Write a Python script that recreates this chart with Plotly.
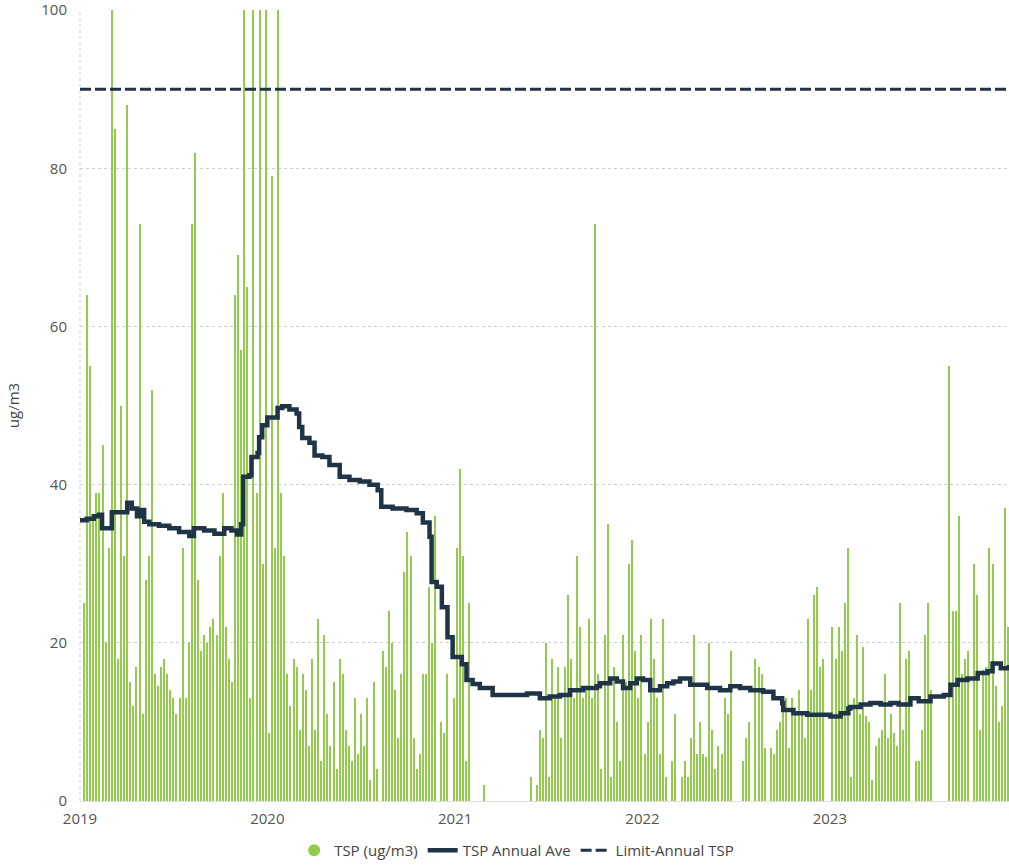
import pandas as pd
import plotly.graph_objects as go

# ---- data -------------------------------------------------------------
N = None
tsp_start = "2019-01-09"          # first sample, then every 6 days
tsp_values = [
    25, 64, 55, 36, 39, 39, 45, 20, 32, 115, 85, 18, 50, 31, 88, 15, 12, 17, 73, 11,
    28, 31, 52, 16, 14.5, 17, 18, 16, 14, 13, 11, 13, 32, 13, 20, 73, 82, 28, 19, 21,
    20, 22, 23, 21, 31, 39, 22, 18, 15, 64, 69, 57, 120, 65, 13, 110, 39, 125, 30, 105,
    8.6, 79, 32, 115, 39, 31, 16,
    12, 18, 17, 9, 16, 14, 7, 18, 9, 23, 5, 21, 11, 7, 15, 4, 18, 16, 9, 7,
    5, 13, 6, 11, 7, 13, 2.7, 15, 4, N, 19, 17, 24, 20, 14, 8, 16, 29, 34, 31,
    8, 4, 6, 16, 16, 27, 20, 36, N, 10, 8.6, 16, N, 13, 32, 42, 31, 5, 25,
    N, N, N, N, 2, N, N, N, N, N, N, N, N, N, N, N, N, N, N, 3,
    N, 2, 9, 8, 20, 3, 18, 13, 17, 8, 17, 26, 18, 13, 31, 22, 13, 14, 23, 13,
    73, 16, 4, 21, 35, 3, 17, 10, 5, 21, 15, 30, 33, 19, 13, 21, 6, 10, 23, 18,
    13, 6, 23, 3,
    N, 5, 11, N, 3, 5, 3, 8, 21, 6, 10, 6, 5.6, 20, 9, 4, 7, 6, 13, 11,
    19, N, N, N, 5, 8, 10, N, 18, 17, 16, 6.7, N, 6.7, 6, 9, 10, 12, 13, 6.7,
    13, 11, 14, 11, 8, 23, 14, 26, 27, 17, 18, N, N, 22, 18, 22, 19, 25, 32, 3,
    13, 21,
    11, 19.5, 10.7, 10, 2.7, 7, 8, 9, 16, 8, 11, 8.6, 7, 25, 9, 18, 19, N, 5, 5,
    9, 21, 25, 14, N, N, N, N, N, 55, 24, 24, 36, 16, 18, 19, N, 30, 26, 9,
    16.6, 17, 32, 30, 14.5, 10, 12, 37, 22,
]
tsp_dates = pd.date_range(tsp_start, periods=len(tsp_values), freq="6D")

ave_dates = [
    "2019-01-01", "2019-01-14", "2019-01-28", "2019-02-07", "2019-02-13", "2019-02-27",
    "2019-03-04", "2019-03-18", "2019-04-03", "2019-04-12", "2019-04-22", "2019-04-28",
    "2019-05-06", "2019-05-16", "2019-06-04", "2019-06-24", "2019-07-13", "2019-08-02",
    "2019-08-11", "2019-08-31", "2019-09-20", "2019-10-09", "2019-10-23", "2019-11-03",
    "2019-11-11", "2019-11-15", "2019-11-27", "2019-12-01", "2019-12-13", "2019-12-16",
    "2019-12-22", "2020-01-01", "2020-01-15", "2020-01-21", "2020-01-30", "2020-02-13",
    "2020-02-27", "2020-03-03", "2020-03-09", "2020-03-23", "2020-04-02", "2020-04-17",
    "2020-05-01", "2020-05-21", "2020-06-09", "2020-06-29", "2020-07-18", "2020-08-03",
    "2020-08-10", "2020-09-01", "2020-09-28", "2020-10-18", "2020-10-30", "2020-11-12",
    "2020-11-16", "2020-11-26", "2020-12-06", "2020-12-17", "2020-12-27", "2021-01-14",
    "2021-01-23", "2021-02-04", "2021-02-18", "2021-03-15", "2021-04-17", "2021-05-21",
    "2021-06-15", "2021-07-04", "2021-07-24", "2021-08-13", "2021-09-07", "2021-10-04",
    "2021-10-10", "2021-10-30", "2021-11-12", "2021-11-24", "2021-12-08", "2021-12-21",
    "2022-01-02", "2022-01-16", "2022-02-04", "2022-02-18", "2022-03-02", "2022-03-15",
    "2022-04-04", "2022-05-07", "2022-06-01", "2022-06-21", "2022-07-10", "2022-07-30",
    "2022-08-24", "2022-09-13", "2022-09-30", "2022-10-02", "2022-10-22", "2022-11-18",
    "2022-12-14", "2023-01-02", "2023-01-22", "2023-02-06", "2023-02-10", "2023-03-02",
    "2023-03-21", "2023-04-10", "2023-04-29", "2023-05-15", "2023-06-07", "2023-06-23",
    "2023-07-16", "2023-08-11", "2023-08-24", "2023-09-07", "2023-09-26", "2023-10-16",
    "2023-11-04", "2023-11-14", "2023-11-30", "2023-12-16",
]
ave_values = [
    35.5, 35.7, 36.0, 36.2, 34.5, 34.5, 36.5, 36.5, 37.7, 37.0, 36.0, 36.8,
    35.3, 35.0, 34.8, 34.5, 34.0, 33.5, 34.5, 34.2, 33.8, 34.5, 34.2, 33.7,
    35.0, 41.0, 41.2, 43.5, 44.0, 46.0, 47.5, 48.5, 48.5, 49.7, 49.9, 49.5,
    49.0, 47.3, 45.9, 45.3, 43.7, 43.5, 42.5, 41.0, 40.6, 40.4, 40.0, 39.3,
    37.2, 37.0, 36.8, 36.4, 35.2, 33.4, 27.7, 27.1, 24.5, 20.7, 18.2, 17.3,
    15.3, 14.8, 14.3, 13.4, 13.4, 13.6, 13.0, 13.2, 13.4, 14.0, 14.3, 14.5,
    14.9, 15.5, 15.1, 14.3, 14.9, 15.5, 15.3, 14.0, 14.5, 14.9, 15.1, 15.5,
    14.7, 14.3, 14.0, 14.5, 14.3, 14.0, 13.8, 13.0, 12.4, 11.5, 11.1, 10.9,
    10.9, 10.7, 11.1, 11.7, 11.9, 12.2, 12.4, 12.2, 12.4, 12.2, 13.0, 12.6,
    13.2, 13.4, 14.7, 15.3, 15.5, 16.2, 16.4, 17.4, 16.8, 17.2,
]

limit_dates = ["2019-01-01", "2023-12-16"]
limit_values = [90, 90]

x_range = ["2019-01-01", "2023-12-16"]
y_range = [0, 100.02]
y_ticks = [0, 20, 40, 60, 80, 100]
year_ticks = ["2019-01-01", "2020-01-01", "2021-01-01", "2022-01-01", "2023-01-01"]
year_labels = ["2019", "2020", "2021", "2022", "2023"]

GREEN = "#92CC4C"
NAVY = "#1F3446"
TEXT = "#555555"
FONT = "Open Sans, Noto Sans, sans-serif"
DAY_MS = 86400000

# ---- figure -----------------------------------------------------------
fig = go.Figure()

fig.add_trace(go.Bar(
    x=tsp_dates, y=tsp_values, name="TSP (ug/m3)",
    marker=dict(color=GREEN, line=dict(width=0)),
    width=2.0 * DAY_MS, showlegend=False,
))
# legend proxy with a round marker
fig.add_trace(go.Scatter(
    x=[None], y=[None], mode="markers", name="TSP (ug/m3)",
    marker=dict(color=GREEN, size=12, symbol="circle"),
))
fig.add_trace(go.Scatter(
    x=ave_dates, y=ave_values, mode="lines", name="TSP Annual Ave",
    line=dict(color=NAVY, width=4.5, shape="hv"),
))
fig.add_trace(go.Scatter(
    x=limit_dates, y=limit_values, mode="lines", name="Limit-Annual TSP",
    line=dict(color=NAVY, width=3, dash="11px,4px"),
))

fig.update_layout(
    width=1009, height=867,
    margin=dict(l=80, r=0, t=10, b=66),
    paper_bgcolor="white", plot_bgcolor="white",
    font=dict(family=FONT, size=15, color=TEXT),
    bargap=0,
    showlegend=True,
    legend=dict(
        orientation="h", x=0.47, xanchor="center", y=-0.042, yanchor="top",
        font=dict(family=FONT, size=15, color="#444444"), itemwidth=30,
        tracegroupgap=0,
    ),
    xaxis=dict(
        type="date", range=x_range,
        tickvals=year_ticks, ticktext=year_labels,
        showgrid=False, zeroline=False, showline=True,
        linecolor="#e0e0e0", linewidth=1, ticks="",
        tickfont=dict(family=FONT, size=15, color=TEXT),
        ticklabelstandoff=4,
    ),
    yaxis=dict(
        range=y_range, tickvals=y_ticks,
        showgrid=True, gridcolor="#cfcfcf", griddash="dot", gridwidth=1,
        zeroline=False, showline=False, ticks="",
        tickfont=dict(family=FONT, size=15, color=TEXT),
        ticklabelstandoff=12, ticklabeloverflow="allow",
        title=dict(text="ug/m3", font=dict(family=FONT, size=15, color="#444444"),
                   standoff=18),
    ),
    shapes=[dict(type="line", xref="paper", yref="paper", x0=0, x1=0, y0=0, y1=1,
                 line=dict(color="#cfcfcf", width=1, dash="dot"), layer="below")],
)

fig.write_html(
    "out.html",
    config={"displayModeBar": False},
    post_script="document.body.style.margin='0';document.body.style.overflow='hidden';",
)
